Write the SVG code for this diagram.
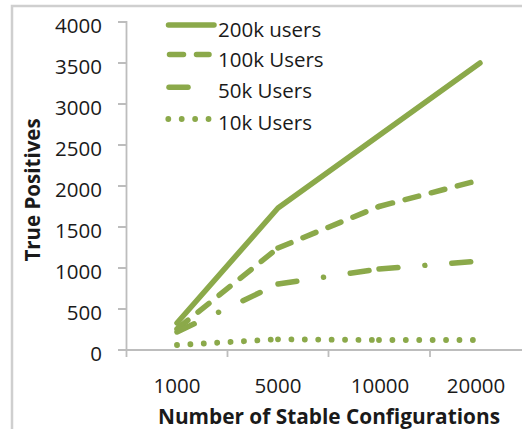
<svg xmlns="http://www.w3.org/2000/svg" width="522" height="429" viewBox="0 0 522 429">
<style>
.frame{stroke:#cfcfcf;stroke-width:2.5;fill:none}
.axis{stroke:#bdbdbd;stroke-width:1.8;fill:none}
.s{fill:none;stroke:#8ba94a;stroke-width:5.5;stroke-linecap:round;stroke-linejoin:round}
.d100{stroke-dasharray:14 13}
.d50{stroke-dasharray:19 27 0.01 27}
.d10{stroke-width:5.8;stroke-dasharray:0.01 13.4}
.t{font-family:"Open Sans","DejaVu Sans",sans-serif;font-size:20.5px;fill:#1a1a1a}
.b{font-family:"Open Sans","DejaVu Sans",sans-serif;font-size:20.5px;font-weight:bold;fill:#1a1a1a}
</style>
<rect width="522" height="429" fill="#ffffff"/>
<path class="frame" d="M12 429 V6 H522"/>
<g id="axes">
<path class="axis" d="M126.5 21 V357 M118 350 H522 M118 309 H126.5 M118 268 H126.5 M118 227 H126.5 M118 186 H126.5 M118 145 H126.5 M118 104 H126.5 M118 63 H126.5 M118 22 H126.5 M227.5 350 V357 M328.5 350 V357 M430 350 V357"/>
<g class="t" text-anchor="end">
<text x="102" y="32.5">4000</text>
<text x="102" y="73.5">3500</text>
<text x="102" y="114.5">3000</text>
<text x="102" y="155.5">2500</text>
<text x="102" y="196.5">2000</text>
<text x="102" y="237.5">1500</text>
<text x="102" y="278.5">1000</text>
<text x="102" y="319.5">500</text>
<text x="102" y="360.5">0</text>
</g>
<g class="t" text-anchor="middle">
<text x="177" y="393">1000</text>
<text x="278" y="393">5000</text>
<text x="380" y="393">10000</text>
<text x="476" y="393">20000</text>
</g>
<text class="b" x="158" y="423.5" textLength="342" lengthAdjust="spacingAndGlyphs">Number of Stable Configurations</text>
<text class="b" transform="translate(40 190) rotate(-90)" text-anchor="middle">True Positives</text>
</g>
<g id="connectors">
<g id="series-200k"><path class="s" d="M177 323 L278 208 L379 135.5 L480 63"/></g>
<g id="series-100k">
<path class="s d100" d="M177 329 L278 248"/>
<path class="s d100" d="M278 248 L379 206.5"/>
<path class="s d100" d="M379 206.5 L480 180"/>
</g>
<g id="series-50k">
<path class="s d50" d="M177 332 L278 284"/>
<path class="s d50" d="M278 284 L379 269"/>
<path class="s d50" d="M379 269 L480 261"/>
</g>
<g id="series-10k">
<path class="s d10" d="M177 345 L278 339.3"/>
<path class="s d10" d="M278 339.3 L379 340"/>
<path class="s d10" d="M379 340 L480 340"/>
</g>
</g>
<g id="legend">
<path class="s" d="M168.5 25 H214"/>
<path class="s d100" d="M169.5 54.5 H209"/>
<path class="s d50" d="M169 87.3 H209"/>
<path class="s d10" d="M168.3 119 H210"/>
<g class="t">
<text x="218" y="37">200k users</text>
<text x="218" y="66.5">100k Users</text>
<text x="218" y="98">50k Users</text>
<text x="218" y="130">10k Users</text>
</g>
</g>
</svg>
